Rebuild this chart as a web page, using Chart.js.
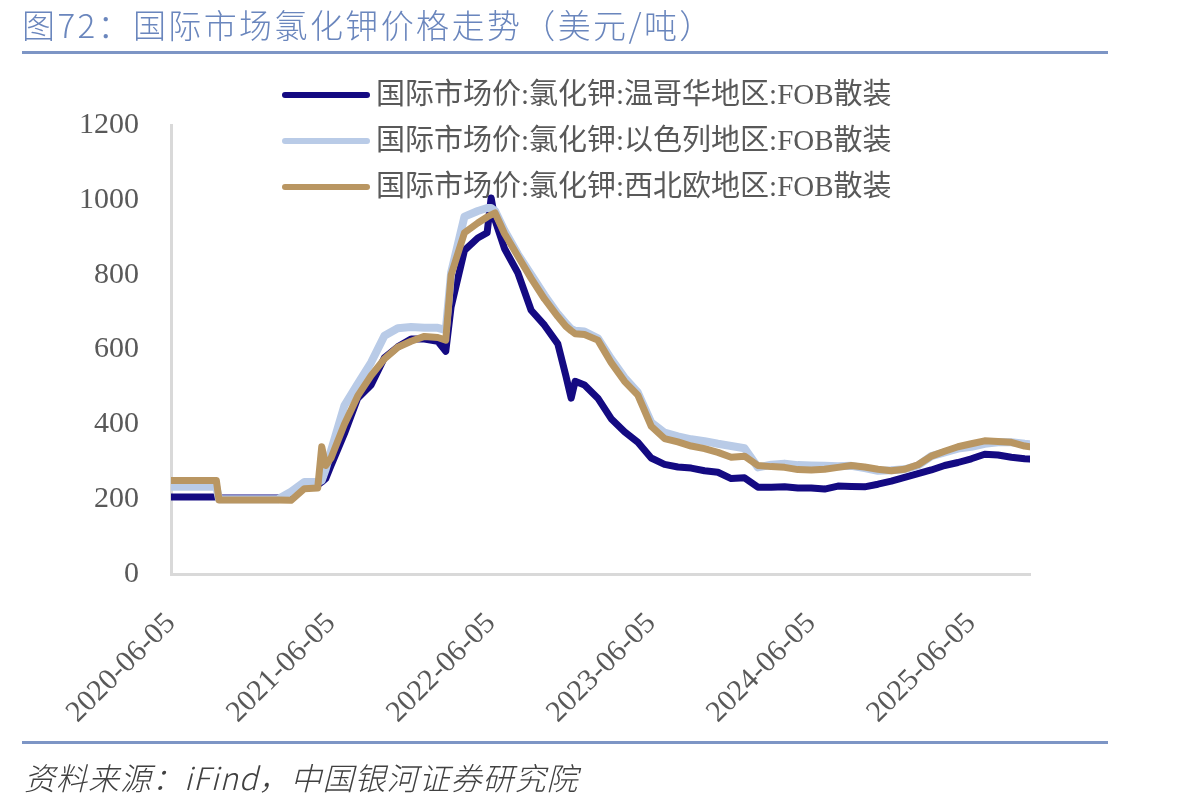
<!DOCTYPE html>
<html>
<head>
<meta charset="utf-8">
<script src="https://cdn.jsdelivr.net/npm/chart.js@4.4.1/dist/chart.umd.min.js"></script>
<style>
  html, body { margin: 0; padding: 0; background: #fff; }
  #wrap { position: relative; width: 1177px; height: 808px; overflow: hidden; }
  #myChart { position: absolute; left: 0; top: 0; }
  .title { position: absolute; left: 22px; top: 0px; font-family: "Noto Sans CJK SC", "Noto Sans", sans-serif; font-size: 33px; font-weight: 300; letter-spacing: 2.4px; color: #6a86bd; white-space: nowrap; }
  .rule { position: absolute; left: 22px; width: 1086px; height: 3px; background: #7d95c5; }
  .source { position: absolute; left: 24px; top: 754px; font-family: "Noto Sans CJK SC", sans-serif; font-size: 31px; font-weight: 300; font-style: italic; letter-spacing: 1px; color: #404040; white-space: nowrap; }
</style>
</head>
<body>
<div id="wrap">
  <canvas id="myChart" width="1177" height="808"></canvas>
  <div class="title">图72：国际市场氯化钾价格走势（美元/吨）</div>
  <div class="rule" style="top:51px"></div>
  <div class="rule" style="top:741px"></div>
  <div class="source">资料来源：iFind，中国银河证券研究院</div>
</div>
<script>
// x positions: months since 2020-06-05
const months = [0, 1, 2, 3, 3.4, 3.6, 4, 5, 6, 7, 8, 9, 10, 11, 11.3, 11.6, 12, 13, 14, 15, 16, 17, 18, 19, 20, 20.6,
  21, 22, 23, 23.7, 24, 24.3, 25, 26, 27, 28, 29, 29.6, 30, 30.3, 31, 32, 33, 34, 35, 36, 37, 38, 39, 40, 41, 42, 43,
  44, 45, 46, 47, 48, 49, 50, 51, 52, 53, 54, 55, 56, 57, 58, 59, 60, 61, 62, 63, 64, 64.4];

const tickLabels = ['2020-06-05', '2021-06-05', '2022-06-05', '2023-06-05', '2024-06-05', '2025-06-05'];
const yTicks = [0, 200, 400, 600, 800, 1000, 1200];

const seriesNames = [
  '国际市场价:氯化钾:温哥华地区:FOB散装',
  '国际市场价:氯化钾:以色列地区:FOB散装',
  '国际市场价:氯化钾:西北欧地区:FOB散装'
];

// 温哥华
const vancouver = [206, 206, 206, 206, 206, 203, 203, 203, 203, 203, 203, 211, 236, 238, 246, 255,
  290, 375, 470, 505, 578, 607, 628, 628, 622, 595,
  714, 865, 898, 912, 1005, 945, 870, 805, 705, 665, 615, 530, 470, 515, 505, 470, 415, 380, 352, 310, 293, 286, 283,
  276, 272, 255, 257, 232, 232, 233, 230, 230, 227, 235, 234, 233, 240, 248, 258, 268, 278, 290, 298, 308, 320, 318,
  312, 308, 307];

// 以色列
const israel = [233, 233, 233, 233, 233, 200, 200, 200, 200, 200, 200, 220, 246, 246, 250, 280,
  330, 450, 508, 565, 637, 657, 660, 658, 658, 652,
  805, 955, 970, 978, 978, 970, 918, 855, 800, 745, 695, 670, 655, 650, 648, 630, 575, 525, 485, 405, 378, 368, 360,
  355, 348, 342, 336, 285, 292, 295, 291, 290, 289, 288, 289, 283, 276, 277, 280, 290, 315, 325, 335, 340, 348, 352,
  352, 348, 347];

// 西北欧
const nwEurope = [250, 250, 250, 250, 250, 198, 198, 198, 198, 198, 198, 197, 228, 230, 340, 290,
  310, 400, 476, 530, 575, 606, 622, 635, 632, 625,
  799, 912, 938, 954, 960, 965, 910, 850, 790, 735, 688, 662, 650, 642, 640, 625, 565, 515, 478, 395, 362, 353, 342,
  335, 325, 312, 315, 290, 287, 285, 279, 278, 280, 285, 290, 286, 280, 276, 280, 292, 315, 328, 340, 348, 356, 354,
  352, 342, 340];

const colors = ['#140a82', '#b9cbe7', '#b99662'];
const widths = [7, 8, 7];

function toPoints(values) {
    return values.map((v, i) => ({ x: months[i], y: v }));
}

// custom legend drawn over the top of the plot, like the original
const legendPlugin = {
    id: 'overlayLegend',
    afterDraw(chart) {
        const ctx = chart.ctx;
        const area = chart.chartArea;
        const x0 = area.left + 114;
        ctx.save();
        seriesNames.forEach((name, i) => {
            const y = area.top - 30 + i * 46;
            ctx.strokeStyle = colors[i];
            ctx.lineWidth = 6;
            ctx.lineCap = 'round';
            ctx.beginPath();
            ctx.moveTo(x0, y);
            ctx.lineTo(x0 + 82, y);
            ctx.stroke();
            ctx.fillStyle = '#595959';
            ctx.font = '29px "Liberation Serif", "Noto Sans CJK SC", serif';
            ctx.textBaseline = 'middle';
            ctx.fillText(name, x0 + 91, y + 1);
        });
        ctx.restore();
    }
};

const tickFont = { family: '"Liberation Serif", "DejaVu Serif", serif', size: 30 };

new Chart(document.getElementById('myChart').getContext('2d'), {
    type: 'line',
    data: {
        datasets: [vancouver, israel, nwEurope].map((vals, i) => ({
            label: seriesNames[i],
            data: toPoints(vals),
            borderColor: colors[i],
            backgroundColor: colors[i],
            borderWidth: widths[i],
            pointRadius: 0,
            tension: 0,
            borderJoinStyle: 'round',
            borderCapStyle: 'round',
            order: 3 - i // gold on top
        }))
    },
    options: {
        responsive: false,
        animation: false,
        devicePixelRatio: 1,
        layout: { padding: { top: 125, right: 147, left: 0, bottom: 0 } },
        plugins: { legend: { display: false }, tooltip: { enabled: false } },
        scales: {
            x: {
                type: 'linear',
                min: 0,
                max: 64.4,
                grid: { display: false },
                border: { display: true, color: '#d9d9d9', width: 3 },
                afterBuildTicks: scale => {
                    scale.ticks = tickLabels.map((_, i) => ({ value: i * 12 }));
                },
                afterFit: scale => { scale.height = 234; },
                ticks: {
                    autoSkip: false,
                    maxRotation: 45,
                    minRotation: 45,
                    padding: 24,
                    color: '#595959',
                    font: tickFont,
                    callback: value => tickLabels[Math.round(value / 12)]
                }
            },
            y: {
                min: 0,
                max: 1200,
                grid: { display: false },
                border: { display: true, color: '#d9d9d9', width: 3 },
                afterBuildTicks: scale => {
                    scale.ticks = yTicks.map(v => ({ value: v }));
                },
                afterFit: scale => { scale.width = 171; },
                ticks: {
                    padding: 24,
                    color: '#595959',
                    font: tickFont,
                    callback: value => String(value)
                }
            }
        }
    },
    plugins: [legendPlugin]
});
</script>
</body>
</html>
